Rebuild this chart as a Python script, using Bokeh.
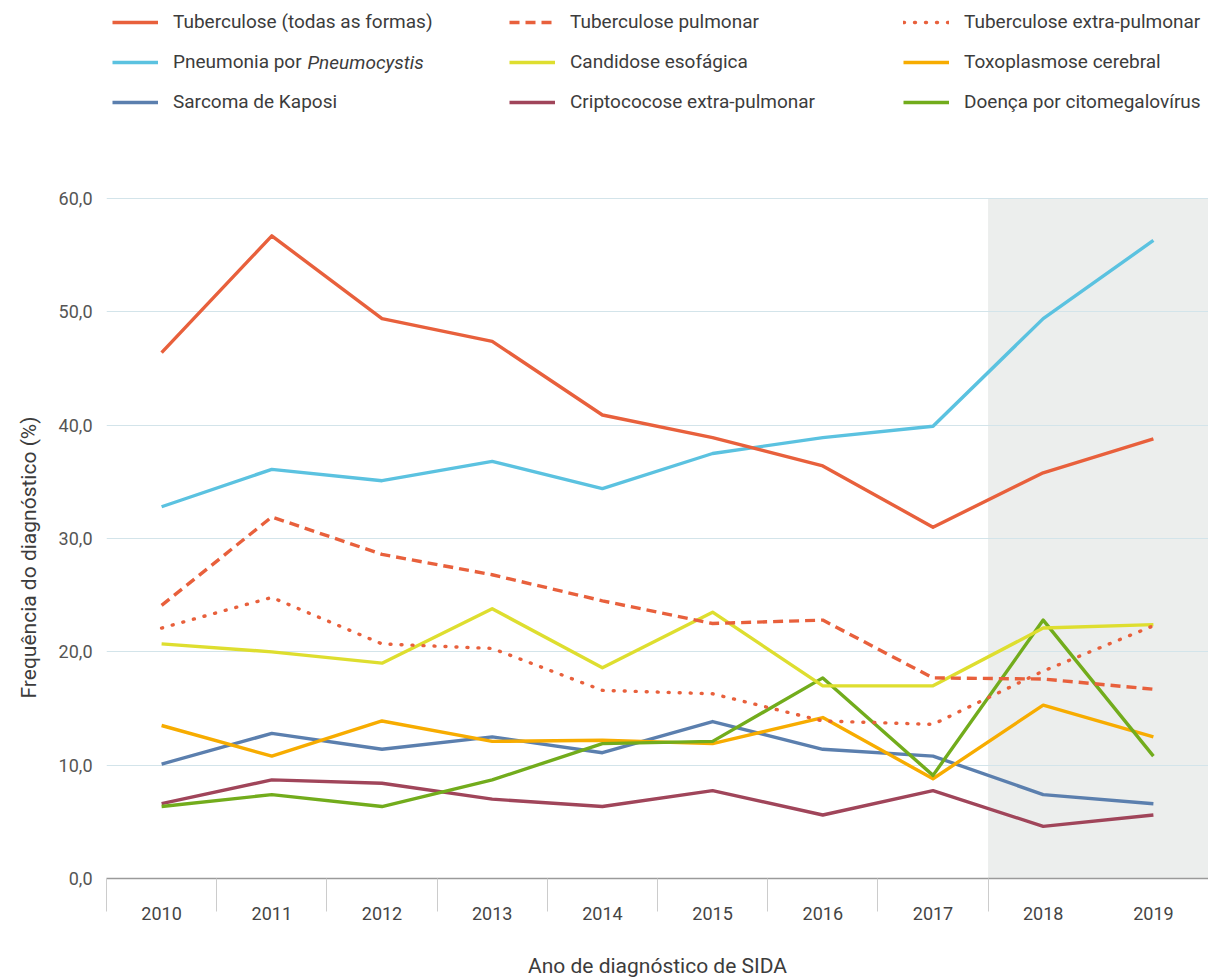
from bokeh.plotting import figure
from bokeh.models import (Range1d, FixedTicker, Legend, LegendItem, BoxAnnotation,
                          Label, Title, CustomJSTickFormatter)
from bokeh.embed import file_html
from bokeh.resources import INLINE

# ---------------- data ----------------
years = [2010, 2011, 2012, 2013, 2014, 2015, 2016, 2017, 2018, 2019]
tb_total = [46.4, 56.7, 49.4, 47.4, 40.9, 38.9, 36.4, 31.0, 35.8, 38.8]
tb_pulmonar = [24.1, 31.9, 28.6, 26.8, 24.5, 22.5, 22.8, 17.7, 17.6, 16.7]
tb_extra = [22.1, 24.8, 20.7, 20.3, 16.6, 16.3, 13.9, 13.6, 18.3, 22.3]
pneumocystis = [32.8, 36.1, 35.1, 36.8, 34.4, 37.5, 38.9, 39.9, 49.4, 56.3]
candidose = [20.7, 20.0, 19.0, 23.8, 18.6, 23.5, 17.0, 17.0, 22.1, 22.4]
toxoplasmose = [13.5, 10.8, 13.9, 12.1, 12.2, 11.9, 14.2, 8.8, 15.3, 12.5]
kaposi = [10.1, 12.8, 11.4, 12.5, 11.1, 13.85, 11.4, 10.8, 7.4, 6.6]
criptococose = [6.6, 8.7, 8.4, 7.0, 6.35, 7.75, 5.6, 7.75, 4.6, 5.6]
citomegalovirus = [6.35, 7.4, 6.35, 8.7, 11.9, 12.1, 17.7, 9.1, 22.8, 10.8]

y_ticks = [0, 10, 20, 30, 40, 50, 60]
shade_years = [2018, 2019]

FONT = "Roboto"
TXT = "#3c3c3c"

p = figure(width=1208, height=980, output_backend="svg", toolbar_location=None,
           x_range=Range1d(2009.5, 2019.5), y_range=Range1d(0, 77.47),
           min_border_left=106, min_border_right=0, min_border_top=0,
           min_border_bottom=102)
p.outline_line_color = None
p.background_fill_color = "white"
p.border_fill_color = "white"

# shaded projection years
p.add_layout(BoxAnnotation(left=shade_years[0] - 0.5, right=shade_years[-1] + 0.5,
                           bottom=y_ticks[0], top=y_ticks[-1],
                           fill_color="#eceeed", fill_alpha=1.0, line_color=None,
                           level="image"))

# y axis
p.yaxis.ticker = FixedTicker(ticks=y_ticks)
p.yaxis.formatter = CustomJSTickFormatter(code="return tick.toFixed(1).replace('.', ',');")
p.yaxis.axis_line_color = None
p.yaxis.major_tick_line_color = None
p.yaxis.minor_tick_line_color = None
p.yaxis.major_tick_out = 0
p.yaxis.major_label_standoff = 14
p.yaxis.major_label_text_font = FONT
p.yaxis.major_label_text_font_size = "18px"
p.yaxis.major_label_text_color = "#555555"

# y-axis title as a side title, placed along the 0-60 part of the scale
p.add_layout(Title(text="Frequência do diagnóstico (%)", align="left", offset=180,
                   vertical_align="top", standoff=26, text_font=FONT,
                   text_font_style="normal", text_font_size="21px",
                   text_color=TXT), "left")

p.ygrid.ticker = FixedTicker(ticks=y_ticks)
p.ygrid.grid_line_color = "#d3e4ea"
p.ygrid.grid_line_width = 1.2
p.xgrid.grid_line_color = None

# x axis (separators between years drawn as minor ticks)
p.xaxis.ticker = FixedTicker(ticks=years, minor_ticks=[y - 0.5 for y in years[:-1]])
p.xaxis.axis_line_color = "#9a9a9a"
p.xaxis.axis_line_width = 1.5
p.xaxis.major_tick_line_color = None
p.xaxis.major_tick_out = 0
p.xaxis.major_tick_in = 0
p.xaxis.minor_tick_out = 0
p.xaxis.minor_tick_in = -33
p.xaxis.minor_tick_line_color = "#cccccc"
p.xaxis.minor_tick_line_width = 1
p.xaxis.major_label_standoff = 28
p.xaxis.major_label_text_font = FONT
p.xaxis.major_label_text_font_size = "18px"
p.xaxis.major_label_text_color = "#444444"
p.xaxis.axis_label = "Ano de diagnóstico de SIDA"
p.xaxis.axis_label_text_font = FONT
p.xaxis.axis_label_text_font_style = "normal"
p.xaxis.axis_label_text_font_size = "21px"
p.xaxis.axis_label_text_color = TXT
p.xaxis.axis_label_standoff = 31

LW = 3.4
C_TB = "#e8603c"
series = [
    ("Tuberculose (todas as formas)", tb_total, C_TB, "solid"),
    ("Pneumonia por", pneumocystis, "#5bc2e0", "solid"),
    ("Sarcoma de Kaposi", kaposi, "#5b7fae", "solid"),
    ("Tuberculose pulmonar", tb_pulmonar, C_TB, "10 6"),
    ("Candidose esofágica", candidose, "#dede2f", "solid"),
    ("Criptococose extra-pulmonar", criptococose, "#a0455a", "solid"),
    ("Tuberculose extra-pulmonar", tb_extra, C_TB, "1 10"),
    ("Toxoplasmose cerebral", toxoplasmose, "#f7ac00", "solid"),
    ("Doença por citomegalovírus", citomegalovirus, "#72ac1c", "solid"),
]

draw_order = [2, 5, 7, 8, 4, 6, 3, 1, 0]
renderers = {}
for i in draw_order:
    name, vals, col, dash = series[i]
    cap = "round" if dash == "1 10" else "butt"
    r = p.line(years, vals, line_color=col, line_width=LW, line_dash=dash,
               line_join="round", line_cap=cap)
    renderers[i] = r

col_x = [6, 403, 797]
for c in range(3):
    items = [LegendItem(label=series[c * 3 + k][0], renderers=[renderers[c * 3 + k]])
             for k in range(3)]
    lg = Legend(items=items, location=(col_x[c], 765), orientation="vertical",
                glyph_width=46, glyph_height=20, label_height=20, label_width=10,
                label_standoff=15, spacing=17, padding=0, margin=0,
                border_line_color=None, background_fill_alpha=0,
                label_text_font=FONT, label_text_font_size="19px",
                label_text_color=TXT)
    p.add_layout(lg, "center")

# italic genus name after "Pneumonia por"
p.add_layout(Label(x=201, y=816, x_units="screen", y_units="screen",
                   text="Pneumocystis", text_font=FONT, text_font_style="italic",
                   text_font_size="19px", text_color=TXT, text_baseline="middle"))

open("out.html", "w").write(file_html(p, INLINE))
